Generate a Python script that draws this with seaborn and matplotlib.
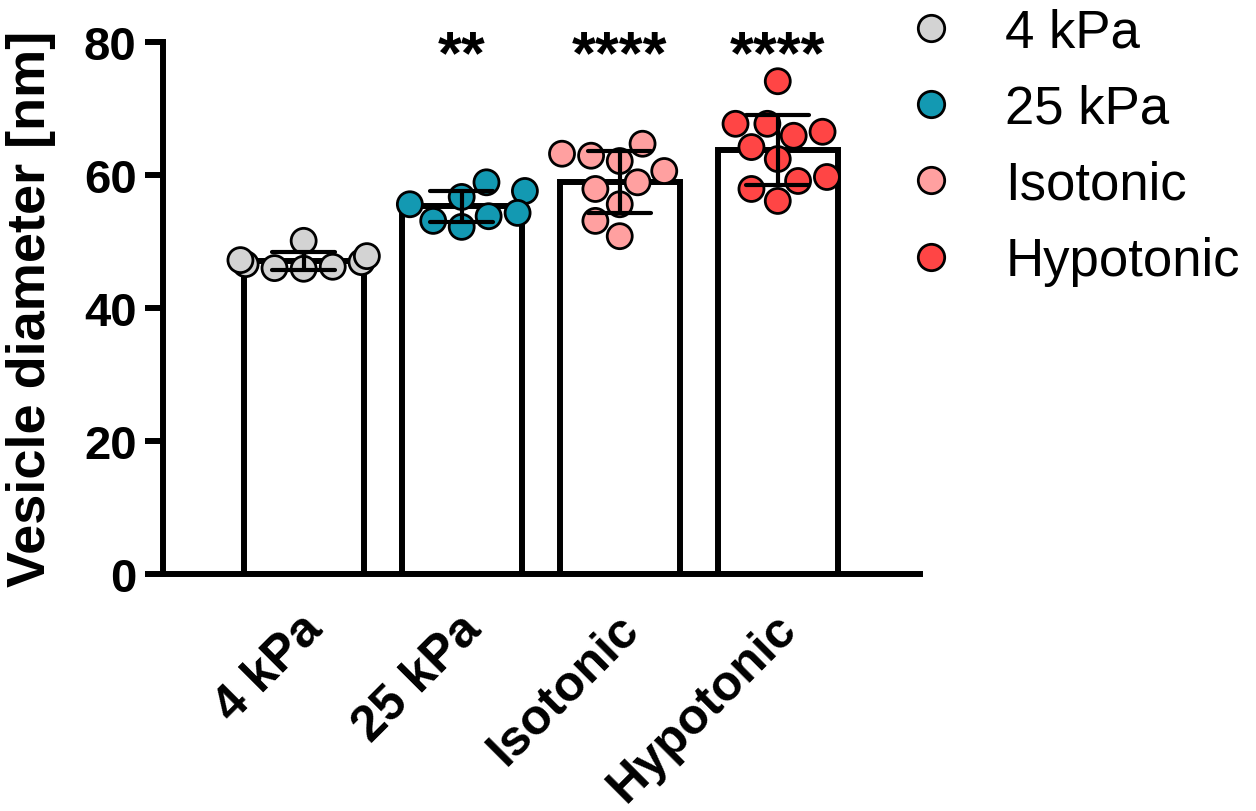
import matplotlib
matplotlib.use("Agg")
import matplotlib.pyplot as plt
import matplotlib.transforms as mtrans
from matplotlib.lines import Line2D
import seaborn as sns
import pandas as pd
import warnings
warnings.filterwarnings("ignore")

groups = ["4 kPa", "25 kPa", "Isotonic", "Hypotonic"]
vals_4kpa = [46.9, 46.6, 45.9, 47.8, 47.2, 50.1, 46.0, 46.2]
vals_25kpa = [56.7, 55.6, 58.9, 57.6, 53.8, 53.1, 52.2, 54.3]
vals_iso = [64.7, 63.2, 62.9, 62.1, 60.6, 58.9, 57.9, 55.6, 53.1, 50.8]
vals_hypo = [74.1, 67.7, 67.7, 66.5, 65.9, 64.2, 62.4, 59.7, 59.1, 57.9, 56.1]
stars = ["", "**", "****", "****"]
colors = ["#D3D3D3", "#1399B2", "#FFA0A0", "#FF4545"]

df = pd.DataFrame({
    "group": sum([[g] * len(v) for g, v in zip(groups, [vals_4kpa, vals_25kpa, vals_iso, vals_hypo])], []),
    "diameter": vals_4kpa + vals_25kpa + vals_iso + vals_hypo,
})

sns.set_style("ticks")
plt.rcParams["font.family"] = ["Liberation Sans", "DejaVu Sans"]
for k in ["text.color", "axes.labelcolor", "axes.edgecolor", "xtick.color", "ytick.color"]:
    plt.rcParams[k] = "black"

fig = plt.figure(figsize=(12.56, 8.12), dpi=100)
ax = fig.add_axes([163 / 1256, 1 - 575 / 812, (920 - 163) / 1256, (575 - 43) / 812])

sns.barplot(data=df, x="group", y="diameter", order=groups, errorbar="sd",
            width=0.76, color="white", edgecolor="black", linewidth=4.3,
            capsize=0.4, err_kws={"linewidth": 3, "color": "black"}, ax=ax)
for ln in ax.lines:
    ln.set_zorder(5)

sns.swarmplot(data=df, x="group", y="diameter", order=groups, hue="group",
              hue_order=groups, palette=colors, size=18, edgecolor="black",
              linewidth=2, legend=False, ax=ax, zorder=3, clip_on=False)

for i, s in enumerate(stars):
    if s:
        ax.text(i, 77.8, s, ha="center", va="center", fontsize=44, fontweight="bold")

ax.set_ylim(0, 80)
ax.set_xlim(-0.89, 3.9)
ax.set_yticks([0, 20, 40, 60, 80])
ax.set_xlabel("")
ax.set_ylabel("Vesicle diameter [nm]", fontsize=39, fontweight="bold", labelpad=20)
sns.despine(ax=ax)
for sp in ["left", "bottom"]:
    ax.spines[sp].set_linewidth(4.3)
ax.tick_params(axis="y", width=4.3, length=13, pad=6, labelsize=34)
ax.tick_params(axis="x", length=0, pad=34, labelsize=36)
for t in ax.get_yticklabels():
    t.set_fontweight("bold")
shift = mtrans.ScaledTranslation(12 / 100, 0, fig.dpi_scale_trans)
for t in ax.get_xticklabels():
    t.set_fontweight("bold")
    t.set_rotation(45)
    t.set_ha("right")
    t.set_va("center")
    t.set_rotation_mode("anchor")
    t.set_transform(t.get_transform() + shift)

handles = [Line2D([], [], marker="o", linestyle="", markersize=19,
                  markerfacecolor=c, markeredgecolor="black", markeredgewidth=2)
           for c in colors]
fig.legend(handles, groups, loc="upper left", bbox_to_anchor=(905 / 1256, 1 - 8 / 812),
           frameon=False, fontsize=38, handlelength=1, handletextpad=0.9,
           labelspacing=0.5, borderpad=0, borderaxespad=0)

fig.savefig("out.png", dpi=100)
